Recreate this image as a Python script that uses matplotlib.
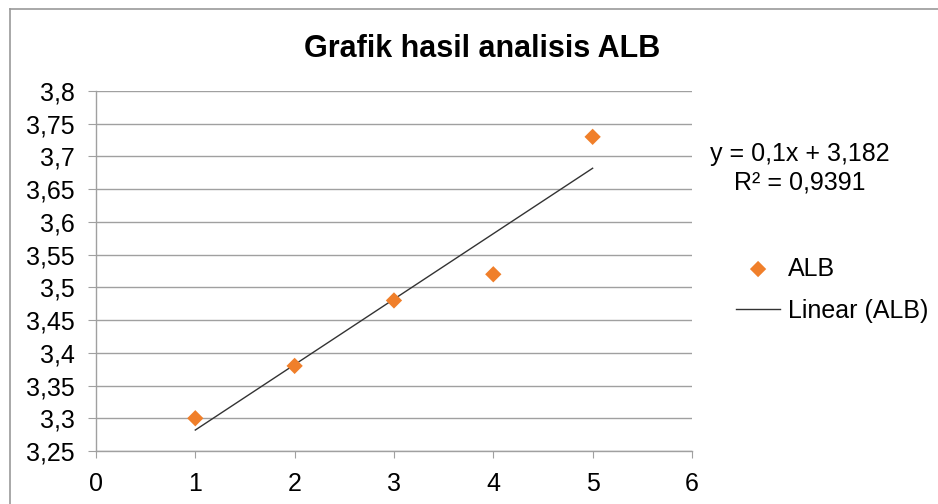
import numpy as np
import matplotlib
matplotlib.use("Agg")
import matplotlib.pyplot as plt
from matplotlib.ticker import FuncFormatter, MultipleLocator
from matplotlib.lines import Line2D

# data
x_vals = [1, 2, 3, 4, 5]
alb = [3.30, 3.38, 3.48, 3.52, 3.73]
title = "Grafik hasil analisis ALB"

plt.rcParams["font.family"] = ["Liberation Sans", "DejaVu Sans"]

fig = plt.figure(figsize=(9.38, 5.04), dpi=100)
ax = fig.add_axes([0.1023, 0.1052, 0.6354, 0.7142])

grey = "#a0a0a0"
ax.scatter(x_vals, alb, marker="D", s=8.3 ** 2, color="#f07f2a", zorder=3,
           label="ALB", edgecolors="none")

# linear trendline (Excel style)
slope, intercept = np.polyfit(x_vals, alb, 1)
fit = np.polyval([slope, intercept], x_vals)
r2 = 1 - np.sum((np.array(alb) - fit) ** 2) / np.sum((np.array(alb) - np.mean(alb)) ** 2)
xs = np.array([x_vals[0], x_vals[-1]])
ax.plot(xs, slope * xs + intercept, color="#333333", lw=1.0, zorder=2,
        label="Linear (ALB)")

ax.set_xlim(0, 6)
ax.set_ylim(3.25, 3.8)
ax.xaxis.set_major_locator(MultipleLocator(1))
ax.yaxis.set_major_locator(MultipleLocator(0.05))
ax.yaxis.set_major_formatter(FuncFormatter(lambda v, p: f"{v:.2f}".rstrip("0").rstrip(".").replace(".", ",")))
ax.xaxis.set_major_formatter(FuncFormatter(lambda v, p: f"{v:g}"))

ax.yaxis.grid(True, color=grey, lw=1.0)
ax.set_axisbelow(True)
for side in ("top", "right"):
    ax.spines[side].set_visible(False)
for side in ("left", "bottom"):
    ax.spines[side].set_color(grey)
    ax.spines[side].set_linewidth(1.0)
ax.tick_params(axis="y", direction="out", length=5.5, color=grey, labelsize=18, pad=10)
ax.tick_params(axis="x", direction="out", length=5, color=grey, labelsize=18, pad=10)

fig.text(0.514, 0.903, title, ha="center", va="center", fontsize=22, fontweight="bold")

eq = f"y = {slope:.1f}x + {intercept:.3f}".replace(".", ",")
rr = f"R² = {r2:.4f}".replace(".", ",")
ax.annotate(eq + "\n" + rr, xy=(1.181, 0.785), xycoords="axes fraction",
            ha="center", va="center", fontsize=18, linespacing=1.22,
            annotation_clip=False)

leg = ax.legend(loc="upper left", bbox_to_anchor=(1.074, 0.54), frameon=False,
                fontsize=18, handlelength=1.76, handletextpad=0.3, labelspacing=0.74,
                borderaxespad=0, borderpad=0)

# outer chart border
fig.add_artist(Line2D([10 / 938, 10 / 938], [0, 1 - 9 / 504], color="#999999", lw=1.2))
fig.add_artist(Line2D([10 / 938, 1], [1 - 9 / 504, 1 - 9 / 504], color="#999999", lw=1.2))

fig.savefig("out.png", dpi=100)
